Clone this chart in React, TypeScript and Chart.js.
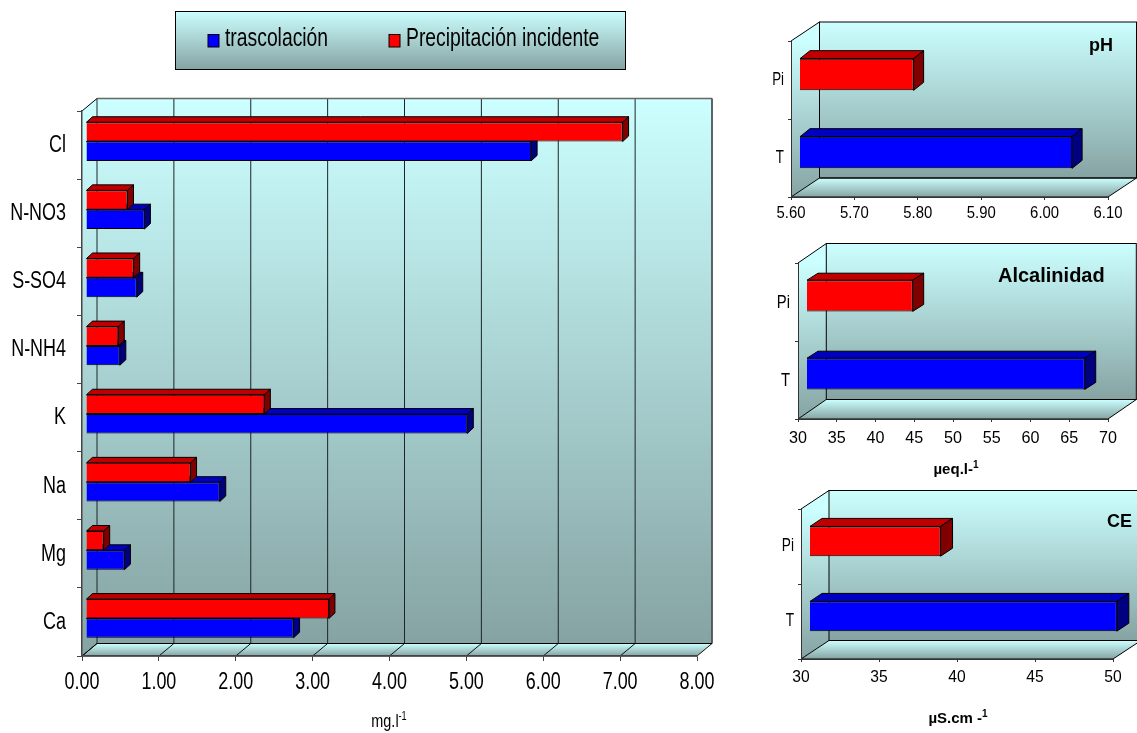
import React, { useEffect, useRef } from "react";
import { Chart, registerables } from "chart.js";

Chart.register(...registerables);

const PAGE_W = 1137;
const PAGE_H = 733;
const SANS = '"Liberation Sans", Arial, sans-serif';

const RED = "#FF0000";
const BLUE = "#0000FF";

// Main chart data (mg.l-1)
const ions = ["Cl", "N-NO3", "S-SO4", "N-NH4", "K", "Na", "Mg", "Ca"];
const trascolacion = [5.79, 0.76, 0.66, 0.44, 4.96, 1.74, 0.5, 2.7];
const precipitacion = [6.98, 0.54, 0.62, 0.42, 2.32, 1.36, 0.23, 3.16];
const seriesNames = ["trascolación", "Precipitación incidente"];

// Small panels
const panelCategories = ["Pi", "T"];
const phValues = [5.78, 6.03];
const alkValues = [43.7, 65.9];
const ceValues = [38.4, 49.7];

type Note = { text: string; sup?: string; x: number; y: number; font: string; supFont?: string; align?: "left" | "center"; squeeze?: number };

type Cfg = {
  l: number; r: number; t: number; b: number;
  dx: number; dy: number;
  shiftX: number; shiftY: number;
  barDx: number; barDy: number;
  min: number; max: number; step: number; decimals: number;
  labels: string[];
  datasets: { label: string; data: number[]; backgroundColor: string | string[] }[];
  catPct: number;
  wallGrid: boolean;
  tickLen: number;
  tickSize: number; tickSqueeze: number; tickY: number;
  catSize: number; catSqueeze: number; catX: number; catShift: number;
  axisColor: string; axisWidth: number;
  notes: Note[];
  legend?: boolean;
};

const WALL_TOP = "#CCFFFF";
const WALL_BOT = "#86A3A3";

function facesFor(color: string) {
  return color === RED ? { top: "#C00000", side: "#800000" } : { top: "#0000C0", side: "#000080" };
}

function poly(ctx: CanvasRenderingContext2D, pts: number[][], fill: CanvasRenderingContext2D["fillStyle"] | null, stroke: string | null, lw = 1) {
  ctx.beginPath();
  pts.forEach((p, i) => (i ? ctx.lineTo(p[0], p[1]) : ctx.moveTo(p[0], p[1])));
  ctx.closePath();
  if (fill) { ctx.fillStyle = fill; ctx.fill(); }
  if (stroke) { ctx.strokeStyle = stroke; ctx.lineWidth = lw; ctx.stroke(); }
}

function line(ctx: CanvasRenderingContext2D, x1: number, y1: number, x2: number, y2: number, c: string, lw = 1) {
  ctx.beginPath();
  ctx.moveTo(x1, y1);
  ctx.lineTo(x2, y2);
  ctx.strokeStyle = c;
  ctx.lineWidth = lw;
  ctx.stroke();
}

function squeezed(ctx: CanvasRenderingContext2D, text: string, x: number, y: number, font: string, sx: number, align: CanvasTextAlign) {
  ctx.save();
  ctx.translate(x, y);
  ctx.scale(sx, 1);
  ctx.font = font;
  ctx.textAlign = align;
  ctx.textBaseline = "middle";
  ctx.fillStyle = "#000";
  ctx.fillText(text, 0, 0);
  ctx.restore();
}

function makePlugin(cfg: Cfg) {
  return {
    id: "excel3d",
    beforeDraw(chart: any) {
      const ctx: CanvasRenderingContext2D = chart.ctx;
      const { left: l, right: r, top: t, bottom: b } = chart.chartArea;
      const { dx, dy } = cfg;
      ctx.save();
      const gw = ctx.createLinearGradient(0, t + dy, 0, b + dy);
      gw.addColorStop(0, WALL_TOP);
      gw.addColorStop(1, WALL_BOT);
      ctx.fillStyle = gw;
      ctx.fillRect(l + dx, t + dy, r - l, b - t);
      const gl = ctx.createLinearGradient(0, t, 0, b);
      gl.addColorStop(0, WALL_TOP);
      gl.addColorStop(1, WALL_BOT);
      poly(ctx, [[l, t], [l + dx, t + dy], [l + dx, b + dy], [l, b]], gl, null);
      const gf = ctx.createLinearGradient(0, b + dy, 0, b);
      gf.addColorStop(0, WALL_TOP);
      gf.addColorStop(1, WALL_BOT);
      poly(ctx, [[l, b], [l + dx, b + dy], [r + dx, b + dy], [r, b]], gf, null);
      const xs = chart.scales.x;
      if (cfg.wallGrid) {
        xs.ticks.forEach((_: any, i: number) => {
          const x = xs.getPixelForTick(i);
          line(ctx, x + dx, t + dy, x + dx, b + dy, "#1c2626", 1);
          line(ctx, x, b, x + dx, b + dy, "#111", 1);
        });
        line(ctx, l + dx, t + dy, r + dx, t + dy, "#666", 1.5);
        line(ctx, r + dx, t + dy, r + dx, b + dy, "#555", 1.5);
      } else {
        ctx.strokeStyle = "#000";
        ctx.lineWidth = 1;
        ctx.strokeRect(l + dx, t + dy, r - l, b - t);
        line(ctx, r, b, r + dx, b + dy, "#000", 1);
      }
      line(ctx, l, t, l + dx, t + dy, "#000", 1);
      line(ctx, l, b, l + dx, b + dy, "#000", 1);
      line(ctx, l + dx, b + dy, r + dx, b + dy, "#000", 1.2);
      line(ctx, l, b, r, b, "#000", 1.2);
      ctx.restore();
    },
    beforeDatasetDraw(chart: any, args: any) {
      const ctx: CanvasRenderingContext2D = chart.ctx;
      ctx.save();
      ctx.translate(cfg.shiftX, cfg.shiftY);
      const ds = chart.data.datasets[args.index];
      args.meta.data.forEach((bar: any, i: number) => {
        const color = Array.isArray(ds.backgroundColor) ? ds.backgroundColor[i] : ds.backgroundColor;
        const f = facesFor(color);
        const y0 = bar.y - bar.height / 2;
        const y1 = bar.y + bar.height / 2;
        const x0 = bar.base;
        const x1 = bar.x;
        const { barDx: d, barDy: e } = cfg;
        poly(ctx, [[x0, y0], [x0 + d, y0 + e], [x1 + d, y0 + e], [x1, y0]], f.top, "#000", 1);
        poly(ctx, [[x1, y0], [x1 + d, y0 + e], [x1 + d, y1 + e], [x1, y1]], f.side, "#000", 1);
      });
    },
    afterDatasetDraw(chart: any) {
      chart.ctx.restore();
    },
    afterDraw(chart: any) {
      const ctx: CanvasRenderingContext2D = chart.ctx;
      ctx.save();
      // axis labels, horizontally condensed as in the source picture
      const xs = chart.scales.x;
      xs.ticks.forEach((tk: any, i: number) => {
        squeezed(ctx, Number(tk.value).toFixed(cfg.decimals), xs.getPixelForTick(i), cfg.tickY, `${cfg.tickSize}px ${SANS}`, cfg.tickSqueeze, "center");
      });
      const ys = chart.scales.y;
      cfg.labels.forEach((lab, i) => {
        squeezed(ctx, lab, cfg.catX, ys.getPixelForValue(i) + cfg.catShift, `${cfg.catSize}px ${SANS}`, cfg.catSqueeze, "right");
      });
      cfg.notes.forEach((n) => {
        const sq = n.squeeze ?? 1;
        ctx.font = n.font;
        const w = ctx.measureText(n.text).width * sq;
        let sw = 0;
        if (n.sup) {
          ctx.font = n.supFont || n.font;
          sw = ctx.measureText(n.sup).width * sq;
        }
        const start = n.align === "center" ? n.x - (w + sw) / 2 : n.x;
        squeezed(ctx, n.text, start, n.y, n.font, sq, "left");
        if (n.sup) squeezed(ctx, n.sup, start + w, n.y - 5, n.supFont || n.font, sq, "left");
      });
      if (cfg.legend) {
        const g = ctx.createLinearGradient(0, 11, 0, 69);
        g.addColorStop(0, WALL_TOP);
        g.addColorStop(1, WALL_BOT);
        ctx.fillStyle = g;
        ctx.fillRect(175.5, 11.5, 450, 58);
        ctx.strokeStyle = "#000";
        ctx.lineWidth = 1;
        ctx.strokeRect(175.5, 11.5, 450, 58);
        const items = [
          { name: seriesNames[0], color: BLUE, sx: 208, tx: 225 },
          { name: seriesNames[1], color: RED, sx: 389, tx: 406 },
        ];
        items.forEach((it) => {
          ctx.fillStyle = it.color;
          ctx.fillRect(it.sx, 34.5, 11, 12.5);
          ctx.strokeStyle = "#000";
          ctx.lineWidth = 1;
          ctx.strokeRect(it.sx, 34.5, 11, 12.5);
          squeezed(ctx, it.name, it.tx, 39, `25px ${SANS}`, 0.773, "left");
        });
      }
      ctx.restore();
    },
  };
}

function buildOptions(cfg: Cfg): any {
  return {
    indexAxis: "y",
    responsive: false,
    animation: false,
    devicePixelRatio: 1,
    layout: { padding: { left: 0, top: cfg.t, right: PAGE_W - cfg.r, bottom: 0 } },
    plugins: { legend: { display: false }, tooltip: { enabled: false }, title: { display: false } },
    scales: {
      x: {
        type: "linear",
        min: cfg.min,
        max: cfg.max,
        ticks: { stepSize: cfg.step, autoSkip: false, maxRotation: 0, color: "rgba(0,0,0,0)", font: { size: 1 } },
        grid: { drawOnChartArea: false, drawTicks: true, tickLength: cfg.tickLen, color: cfg.axisColor },
        border: { color: cfg.axisColor, width: cfg.axisWidth },
        afterFit: (s: any) => {
          s.height = PAGE_H - cfg.b;
          s.paddingLeft = 0;
          s.paddingRight = 0;
        },
      },
      y: {
        type: "category",
        ticks: { color: "rgba(0,0,0,0)", font: { size: 1 }, autoSkip: false },
        grid: { offset: true, drawOnChartArea: false, drawTicks: true, tickLength: cfg.tickLen, color: cfg.axisColor },
        border: { color: cfg.axisColor, width: cfg.axisWidth },
        afterFit: (s: any) => {
          s.width = cfg.l;
          s.paddingTop = 0;
          s.paddingBottom = 0;
        },
      },
    },
  };
}

const mainCfg: Cfg = {
  l: 82, r: 697, t: 111, b: 656, dx: 15, dy: -12.5,
  shiftX: 4, shiftY: -3.5, barDx: 6, barDy: -5.5,
  min: 0, max: 8, step: 1, decimals: 2,
  labels: ions,
  datasets: [
    { label: seriesNames[1], data: precipitacion, backgroundColor: RED },
    { label: seriesNames[0], data: trascolacion, backgroundColor: BLUE },
  ],
  catPct: 0.567,
  wallGrid: true,
  tickLen: 5,
  tickSize: 23, tickSqueeze: 0.78, tickY: 683,
  catSize: 23, catSqueeze: 0.78, catX: 66, catShift: 0.5,
  axisColor: "#444", axisWidth: 1.5,
  legend: true,
  notes: [
    { text: "mg.l", sup: "-1", x: 389, y: 722, font: `19px ${SANS}`, supFont: `12px ${SANS}`, align: "center", squeeze: 0.76 },
  ],
};

const colorsPiT = [RED, BLUE];

const phCfg: Cfg = {
  l: 791, r: 1108, t: 41, b: 197, dx: 28.5, dy: -19,
  shiftX: 8.5, shiftY: -5.5, barDx: 10, barDy: -8,
  min: 5.6, max: 6.1, step: 0.1, decimals: 2,
  labels: panelCategories,
  datasets: [{ label: "pH", data: phValues, backgroundColor: colorsPiT }],
  catPct: 0.406,
  wallGrid: false,
  tickLen: 3,
  tickSize: 16, tickSqueeze: 0.93, tickY: 214,
  catSize: 18, catSqueeze: 0.74, catX: 784, catShift: 0.5,
  axisColor: "#333", axisWidth: 1,
  notes: [{ text: "pH", x: 1089, y: 46, font: `bold 18px ${SANS}` }],
};

const alkCfg: Cfg = {
  l: 798, r: 1108, t: 263, b: 419, dx: 28.3, dy: -19.5,
  shiftX: 8.5, shiftY: -6.2, barDx: 11, barDy: -7,
  min: 30, max: 70, step: 5, decimals: 0,
  labels: panelCategories,
  datasets: [{ label: "Alcalinidad", data: alkValues, backgroundColor: colorsPiT }],
  catPct: 0.4,
  wallGrid: false,
  tickLen: 3,
  tickSize: 17, tickSqueeze: 0.95, tickY: 438,
  catSize: 19, catSqueeze: 0.78, catX: 790, catShift: 1,
  axisColor: "#333", axisWidth: 1,
  notes: [
    { text: "Alcalinidad", x: 998, y: 276, font: `bold 20px ${SANS}` },
    { text: "µeq.l-", sup: "1", x: 956, y: 470, font: `bold 15px ${SANS}`, supFont: `bold 10px ${SANS}`, align: "center" },
  ],
};

const ceCfg: Cfg = {
  l: 801, r: 1113, t: 509, b: 659, dx: 28, dy: -18.5,
  shiftX: 8.5, shiftY: -5.2, barDx: 12, barDy: -8,
  min: 30, max: 50, step: 5, decimals: 0,
  labels: panelCategories,
  datasets: [{ label: "CE", data: ceValues, backgroundColor: colorsPiT }],
  catPct: 0.397,
  wallGrid: false,
  tickLen: 3,
  tickSize: 17, tickSqueeze: 0.92, tickY: 677,
  catSize: 18, catSqueeze: 0.76, catX: 794, catShift: 0,
  axisColor: "#333", axisWidth: 1,
  notes: [
    { text: "CE", x: 1107, y: 522, font: `bold 18px ${SANS}` },
    { text: "µS.cm -", sup: "1", x: 958, y: 719, font: `bold 15px ${SANS}`, supFont: `bold 10px ${SANS}`, align: "center" },
  ],
};

const allCfgs = [mainCfg, phCfg, alkCfg, ceCfg];

function Panel({ cfg }: { cfg: Cfg }) {
  const ref = useRef<HTMLCanvasElement>(null);
  useEffect(() => {
    const chart = new Chart(ref.current as HTMLCanvasElement, {
      type: "bar",
      data: {
        labels: cfg.labels,
        datasets: cfg.datasets.map((d) => ({
          ...d,
          base: cfg.min,
          borderColor: "#000",
          borderWidth: 1,
          categoryPercentage: cfg.catPct,
          barPercentage: 1,
          clip: false,
        })),
      } as any,
      options: buildOptions(cfg),
      plugins: [makePlugin(cfg)],
    } as any);
    return () => chart.destroy();
  }, [cfg]);
  return (
    <canvas
      ref={ref}
      width={PAGE_W}
      height={PAGE_H}
      style={{ position: "absolute", left: 0, top: 0, width: PAGE_W, height: PAGE_H, display: "block" }}
    />
  );
}

export default function App() {
  return (
    <div style={{ position: "absolute", left: 0, top: 0, width: PAGE_W, height: PAGE_H, overflow: "hidden", background: "#fff" }}>
      {allCfgs.map((c, i) => (
        <Panel key={i} cfg={c} />
      ))}
    </div>
  );
}
